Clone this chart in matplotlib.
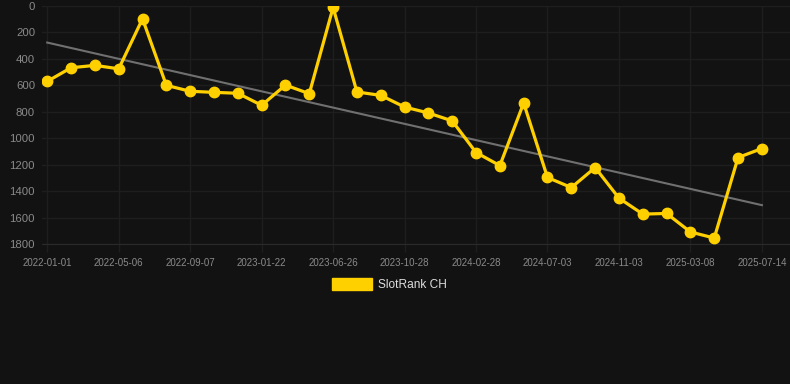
import numpy as np
import matplotlib
matplotlib.use("Agg")
import matplotlib.pyplot as plt
from matplotlib.patches import Patch

dates = ["2022-01-01", "2022-02-11", "2022-03-25", "2022-05-06", "2022-06-16",
         "2022-07-27", "2022-09-07", "2022-10-23", "2022-12-07", "2023-01-22",
         "2023-03-15", "2023-05-05", "2023-06-26", "2023-08-06", "2023-09-16",
         "2023-10-28", "2023-12-08", "2024-01-18", "2024-02-28", "2024-04-10",
         "2024-05-22", "2024-07-03", "2024-08-13", "2024-09-23", "2024-11-03",
         "2024-12-15", "2025-01-25", "2025-03-08", "2025-04-19", "2025-06-01",
         "2025-07-14"]
rank = [570, 467, 449, 475, 97, 600, 645, 653, 660, 751,
        598, 663, 11, 650, 676, 764, 809, 869, 1108, 1207,
        734, 1297, 1373, 1222, 1453, 1574, 1569, 1709, 1755, 1146,
        1078]
series_name = "SlotRank CH"
y_ticks = [0, 200, 400, 600, 800, 1000, 1200, 1400, 1600, 1800]

BG = "#121212"
GRID = "#1e1e1e"
TXT = "#8a8a8a"
YEL = "#FFD000"

plt.rcParams["font.family"] = ["Liberation Sans", "DejaVu Sans"]

fig = plt.figure(figsize=(7.9, 3.84), dpi=100, facecolor=BG)
ax = fig.add_axes([42 / 790, 140 / 384, 748 / 790, 238 / 384])
ax.set_facecolor(BG)

x = np.arange(len(dates))
coef = np.polyfit(x, rank, 1)
ax.plot(x, np.polyval(coef, x), color="#707070", lw=1.5, zorder=2)
ax.plot(x, rank, color=YEL, lw=2.3, marker="o", ms=7.5, zorder=3)

ax.set_xlim(-0.22, 31.18)
ax.set_ylim(1800, 0)
ax.set_yticks(y_ticks)
ax.set_xticks(x[::3])
ax.set_xticklabels(dates[::3])

ax.grid(True, color=GRID, lw=1)
for s in ["top", "right", "left"]:
    ax.spines[s].set_visible(False)
ax.spines["bottom"].set_color("#2a2a2a")
ax.tick_params(axis="x", colors=GRID, length=6, width=1, labelcolor=TXT,
               labelsize=7, pad=4)
ax.tick_params(axis="y", length=0, labelcolor=TXT, labelsize=8.2, pad=5)

fig.legend(handles=[Patch(facecolor=YEL, edgecolor=YEL)], labels=[series_name],
           loc="center", bbox_to_anchor=(389.5 / 790, 1 - 284.5 / 384),
           frameon=False, fontsize=8.6, labelcolor="#dddddd",
           handlelength=3.4, handleheight=1.1, handletextpad=0.5)

fig.savefig("out.png", dpi=100, facecolor=BG)
